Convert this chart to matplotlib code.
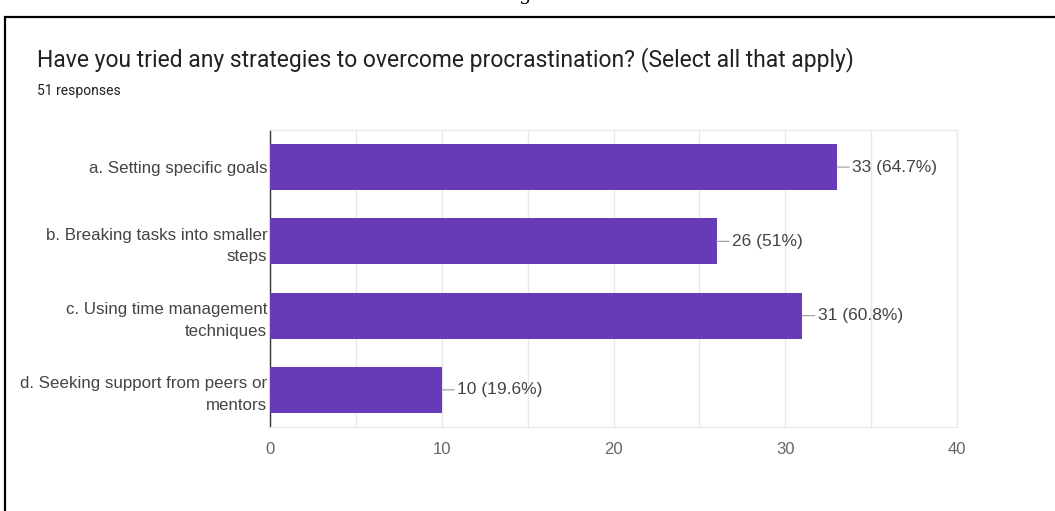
import matplotlib.pyplot as plt
from matplotlib.patches import Rectangle

plt.rcParams['font.family'] = ['Roboto', 'DejaVu Sans']

# survey data
categories = ['a. Setting specific goals',
              'b. Breaking tasks into smaller\nsteps',
              'c. Using time management\ntechniques',
              'd. Seeking support from peers or\nmentors']
counts = [33, 26, 31, 10]
percents = ['64.7%', '51%', '60.8%', '19.6%']
xticks = [0, 10, 20, 30, 40]

BAR = '#673ab7'
TXT = '#444444'
GRID = '#e8e8e8'
ARIAL = ['Liberation Sans', 'DejaVu Sans']

fig = plt.figure(figsize=(10.55, 5.11), dpi=100)

# black frame of the screenshot (runs off right and bottom)
fig.patches.append(Rectangle((4.5 / 1055, -0.1), 1.2, 1.1 - 17.5 / 511,
                             transform=fig.transFigure, fill=False,
                             edgecolor='black', lw=1.6))
# cut-off caption letter at the very top
fig.text(0.4975, 1 - 0.5 / 511, 'g', fontsize=14, family='DejaVu Serif',
         ha='center', va='baseline', color='black')

fig.text(37 / 1055, 1 - 60 / 511, 'Have you tried any strategies to overcome procrastination? (Select all that apply)',
         fontsize=16.5, color='#202124', va='center', ha='left')
fig.text(37 / 1055, 1 - 91 / 511, '51 responses', fontsize=10, color='#202124',
         va='center', ha='left')

ax = fig.add_axes([270 / 1055, 1 - 427 / 511, 687 / 1055, 297 / 511])
y = list(range(len(categories)))
ax.barh(y, counts, height=0.62, color=BAR, zorder=3)

for i, (c, p) in enumerate(zip(counts, percents)):
    ax.annotate(f'{c} ({p})', xy=(c, i), xytext=(11, 0), textcoords='offset points',
                va='center', ha='left', fontsize=12.5, color=TXT, family=ARIAL,
                arrowprops=dict(arrowstyle='-', color='#999999', lw=0.8,
                                shrinkA=0, shrinkB=0))

ax.set_xlim(0, 40)
ax.set_ylim(3.5, -0.5)
ax.set_yticks(y)
ax.set_yticklabels(categories, fontsize=12.2, color=TXT, linespacing=1.55,
                   family=ARIAL)
ax.set_xticks(xticks)
ax.set_xticklabels([str(t) for t in xticks], fontsize=12, color='#666666',
                   family=ARIAL)
ax.set_xticks(range(0, 41, 5), minor=True)
ax.grid(True, axis='x', which='both', color=GRID, lw=1, zorder=0)
ax.tick_params(axis='both', which='both', length=0, pad=2)
ax.tick_params(axis='x', which='both', pad=11)
for s in ['top', 'right', 'bottom']:
    ax.spines[s].set_color(GRID)
ax.spines['left'].set_color('#333333')
ax.spines['left'].set_linewidth(1)

fig.savefig('out.png', dpi=100)
